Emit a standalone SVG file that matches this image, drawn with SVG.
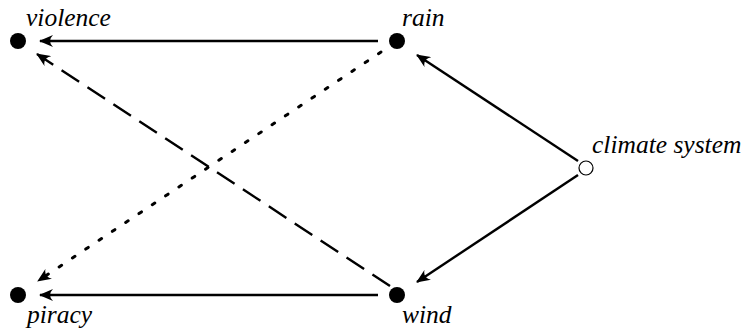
<svg xmlns="http://www.w3.org/2000/svg" width="750" height="331" viewBox="0 0 750 331">
<style>
.edge{stroke:#000;stroke-width:2.4;fill:none}
.dash{stroke-dasharray:21 10}
.dot{stroke-dasharray:3 13;stroke-linecap:round;stroke-width:3}
text{font-family:"Liberation Serif","Times New Roman",serif;font-style:italic;font-size:25.5px}
</style>
<defs>
<marker id="ah" viewBox="0 0 14 12" refX="13" refY="6" markerWidth="14" markerHeight="12" markerUnits="userSpaceOnUse" orient="auto">
<path d="M14,6 L0,0 Q6,6 0,12 Z" fill="#000"/>
</marker>
</defs>
<g id="connectors">
<line class="edge" x1="378" y1="41" x2="40" y2="41" marker-end="url(#ah)"/>
<line class="edge" x1="378" y1="295" x2="40" y2="295" marker-end="url(#ah)"/>
<line class="edge" x1="578" y1="161" x2="417" y2="55" marker-end="url(#ah)"/>
<line class="edge" x1="578" y1="175" x2="417" y2="282" marker-end="url(#ah)"/>
<line class="edge dash" x1="390" y1="286" x2="37" y2="54" marker-end="url(#ah)"/>
<line class="edge dot" x1="381" y1="52" x2="38" y2="281" marker-end="url(#ah)"/>
</g>
<g fill="#000">
<g id="violence"><circle cx="18" cy="41" r="8"/><text x="26" y="26">violence</text></g>
<g id="rain"><circle cx="397" cy="41" r="8"/><text x="402" y="26">rain</text></g>
<g id="climate"><circle cx="586" cy="168" r="7" fill="#fff" stroke="#000" stroke-width="1.2"/><text x="592" y="153">climate system</text></g>
<g id="piracy"><circle cx="18" cy="295" r="8"/><text x="27" y="323">piracy</text></g>
<g id="wind"><circle cx="397" cy="295" r="8"/><text x="402" y="323">wind</text></g>
</g>
</svg>
